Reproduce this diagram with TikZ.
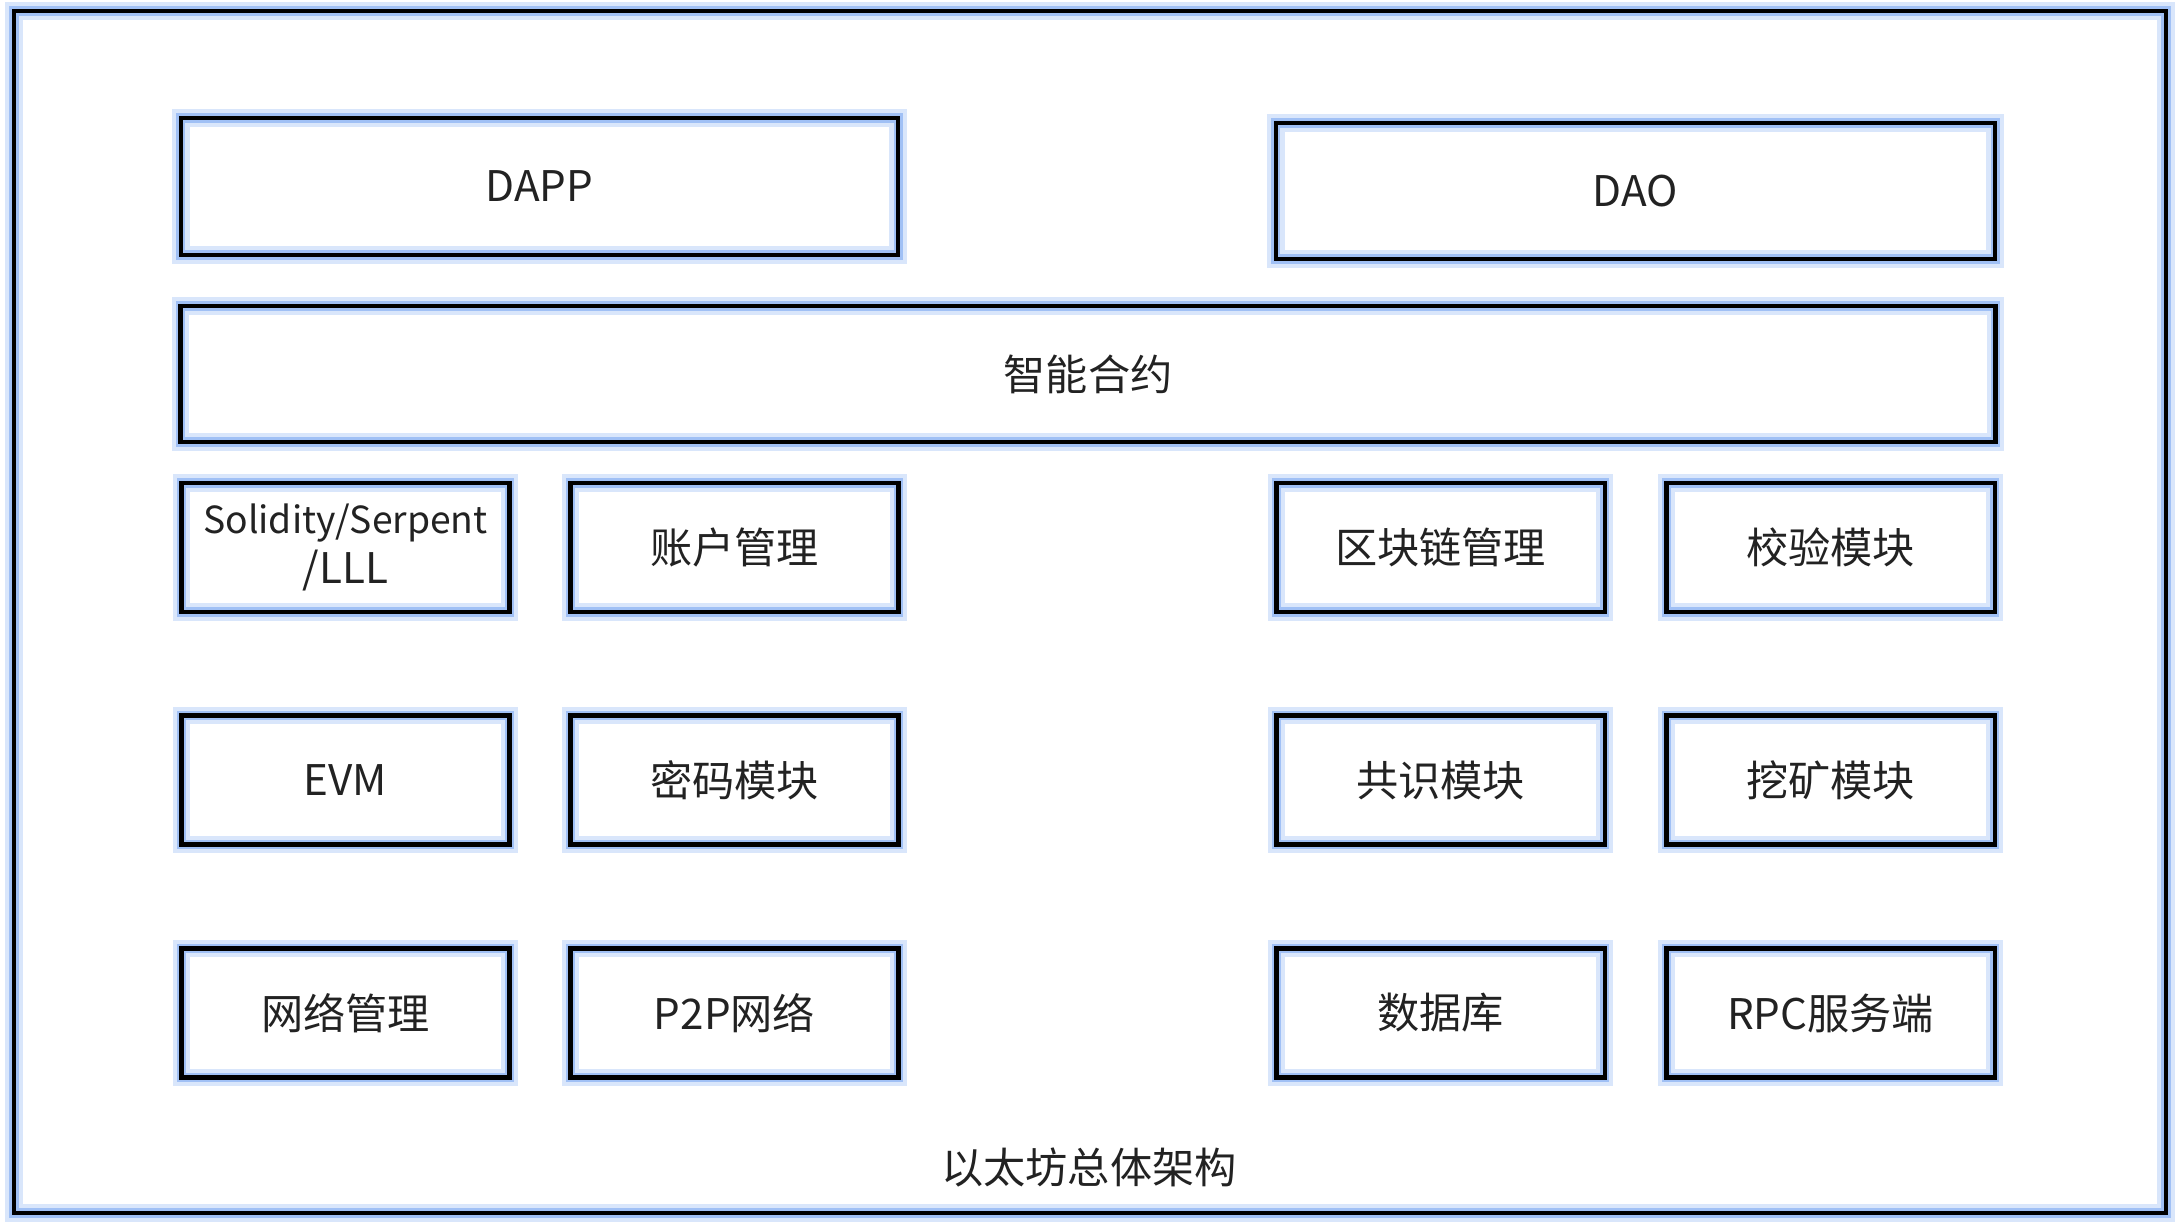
\documentclass[tikz,border=0pt]{standalone}
\usepackage{fontspec}
\setmainfont{Noto Sans CJK SC}
\definecolor{glow}{RGB}{160,192,245}
\definecolor{ink}{RGB}{34,34,34}

\tikzset{
  halo/.style={preaction={draw=glow!40,line width=5pt},
               preaction={draw=glow,line width=2.6pt}},
  module/.style={draw=black,line width=1.2pt,halo,rectangle,inner sep=0pt,
               align=center,text=ink,font=\fontsize{12}{14}\selectfont},
  label/.style={text=ink,font=\fontsize{12}{14}\selectfont},
}

\begin{document}
\begin{tikzpicture}[x=0.01cm,y=-0.01cm]
  \useasboundingbox (0,0) rectangle (2184,1226);
  % outer frame
  \draw[line width=1.2pt,halo] (14,11) rectangle (2166,1213);
  % top layer
  \node[module,minimum width=7.17cm,minimum height=1.37cm] (dapp) at (539.5,186.5) {DAPP};
  \node[module,minimum width=7.19cm,minimum height=1.36cm] (dao) at (1635.5,191) {DAO};
  \node[module,minimum width=18.14cm,minimum height=1.36cm] (contract) at (1088,374) {智能合约};
  % modules, row by row
  \foreach \name/\txt/\x/\y in {%
      solidity/{\fontsize{10.6}{14}\selectfont Solidity/Serpent\\/LLL}/345.5/547.5,
      account/{账户管理}/734.5/547.5,
      chain/{区块链管理}/1440.5/547.5,
      verify/{校验模块}/1830.5/547.5,
      evm/{EVM}/345.5/780,
      crypto/{密码模块}/734.5/780,
      consensus/{共识模块}/1440.5/780,
      mining/{挖矿模块}/1830.5/780,
      network/{网络管理}/345.5/1013,
      ptp/{P2P网络}/734.5/1013,
      database/{数据库}/1440.5/1013,
      rpc/{RPC服务端}/1830.5/1013}{%
    \node[module,minimum width=3.28cm,minimum height=1.29cm] (\name) at (\x,\y) {\txt};
  }
  \node[label] (caption) at (1089,1167) {以太坊总体架构};
\end{tikzpicture}
\end{document}
